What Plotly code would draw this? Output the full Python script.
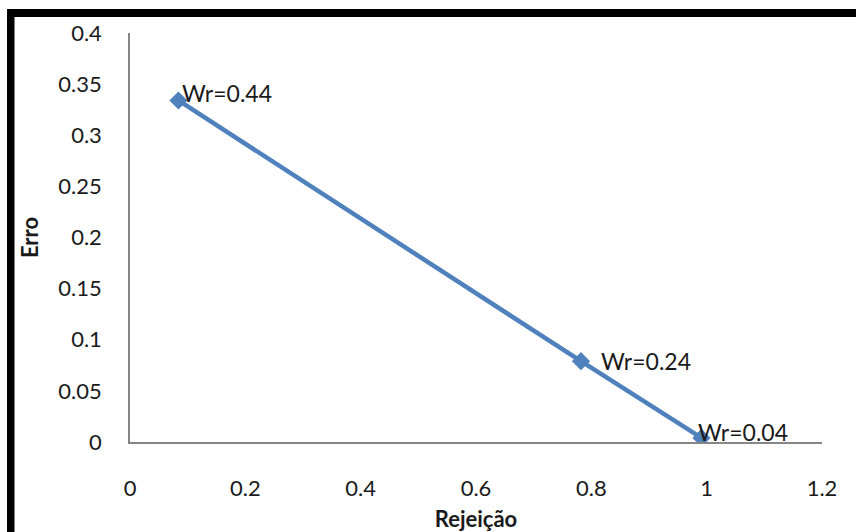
import plotly.graph_objects as go

rejeicao = [0.084, 0.782, 0.991]
erro = [0.334, 0.079, 0.004]
rotulos = ["Wr=0.44", "Wr=0.24", "Wr=0.04"]

x_ticks = [0, 0.2, 0.4, 0.6, 0.8, 1, 1.2]
y_ticks = [0, 0.05, 0.1, 0.15, 0.2, 0.25, 0.3, 0.35, 0.4]

W, H = 856, 532
L, R, T, B = 130, 34, 33, 90
pw, ph = W - L - R, H - T - B

def px_x(p):
    return (p - L) / pw

def px_y(p):
    return (H - B - p) / ph

FONT = "Lato, Carlito, Calibri, sans-serif"
BLUE = "#4F81BD"
TXT = "#1a1a1a"

fig = go.Figure()
fig.add_trace(go.Scatter(
    x=rejeicao, y=erro, mode="lines+markers",
    line=dict(color=BLUE, width=4.5),
    marker=dict(symbol="diamond", size=14, color=BLUE),
    showlegend=False, hoverinfo="skip",
))

shifts = [(2, 7), (18, 0), (-5, 6)]
for xv, yv, t, (dx, dy) in zip(rejeicao, erro, rotulos, shifts):
    fig.add_annotation(x=xv, y=yv, text=t, showarrow=False, xanchor="left",
                       yanchor="middle", xshift=dx, yshift=dy,
                       font=dict(family=FONT, size=23, color=TXT))

# black frame (top and left)
fig.add_shape(type="rect", xref="paper", yref="paper",
              x0=px_x(7), x1=px_x(14.5), y0=px_y(540), y1=px_y(9),
              fillcolor="black", line_width=0, layer="above")
fig.add_shape(type="rect", xref="paper", yref="paper",
              x0=px_x(7), x1=px_x(860), y0=px_y(17), y1=px_y(9),
              fillcolor="black", line_width=0, layer="above")

fig.update_layout(
    width=W, height=H,
    margin=dict(l=L, r=R, t=T, b=B, autoexpand=False),
    paper_bgcolor="white", plot_bgcolor="white",
    font=dict(family=FONT, size=22, color=TXT),
    xaxis=dict(range=[0, 1.2], tickvals=x_ticks, ticktext=[str(v) for v in x_ticks],
               showgrid=False, zeroline=False, showline=True, linecolor="#868686",
               linewidth=1.5, ticks="", ticklabelstandoff=26,
               tickfont=dict(family=FONT, size=22, color=TXT),
               title=dict(text="<b>Rejeição</b>", standoff=11,
                          font=dict(family=FONT, size=22, color=TXT))),
    yaxis=dict(range=[0, 0.4], tickvals=y_ticks, ticktext=[str(v) for v in y_ticks],
               showgrid=False, zeroline=False, showline=True, linecolor="#868686",
               linewidth=1.5, ticks="", ticklabelstandoff=22,
               tickfont=dict(family=FONT, size=22, color=TXT),
               title=dict(text="<b>Erro</b>", standoff=14,
                          font=dict(family=FONT, size=22, color=TXT))),
)

fig.write_html("out.html")
